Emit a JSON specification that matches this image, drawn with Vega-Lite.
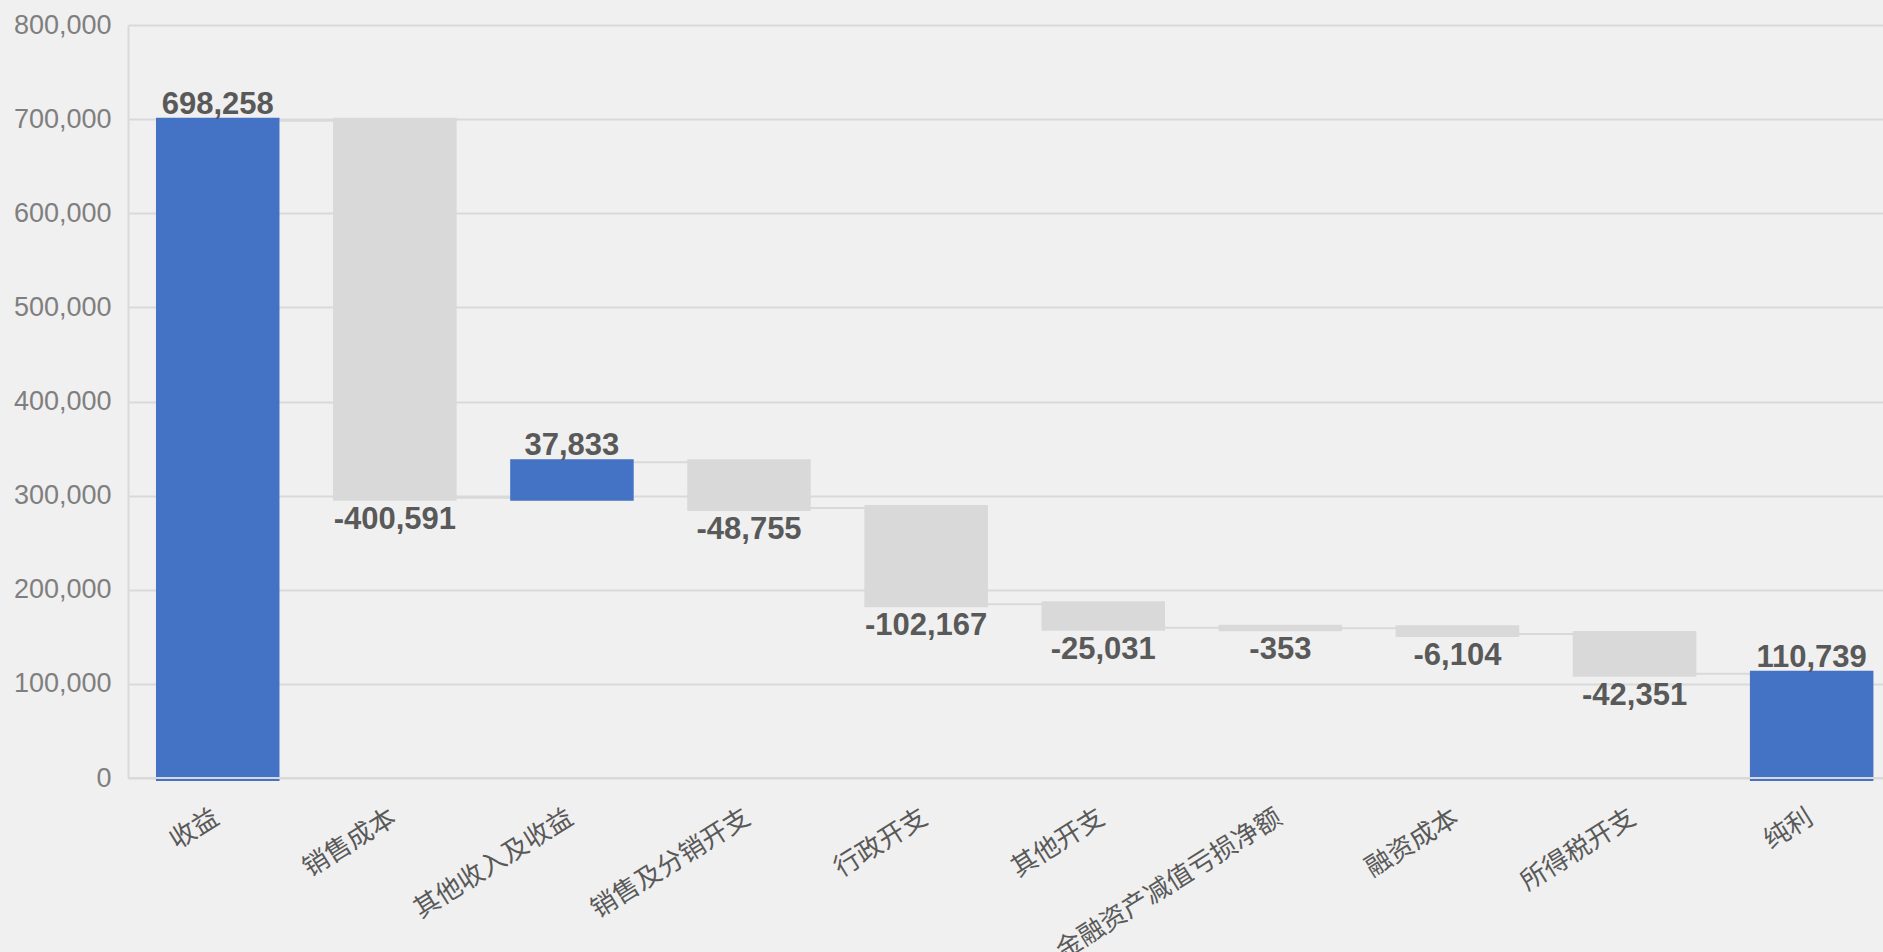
{
  "$schema": "https://vega.github.io/schema/vega-lite/v6.json",
  "autosize": {"type": "none"},
  "padding": {"left": 128, "top": 25, "right": 0, "bottom": 174},
  "width": 1755,
  "height": 753,
  "background": "#f0f0f0",
  "config": {
    "view": {"stroke": null},
    "font": "Liberation Sans",
    "axisY": {
      "ticks": false,
      "domainColor": "#d9d9d9",
      "domainWidth": 2,
      "gridColor": "#d9d9d9",
      "gridWidth": 2,
      "labelFontSize": 27,
      "labelColor": "#7f7f7f",
      "labelPadding": 17
    }
  },
  "data": {
    "values": [
      {"item": "收益", "amount": 698258, "start": 0, "end": 698258, "kind": "total", "label": "698,258", "next": "销售成本"},
      {"item": "销售成本", "amount": -400591, "start": 698258, "end": 297667, "kind": "change", "label": "-400,591", "next": "其他收入及收益"},
      {"item": "其他收入及收益", "amount": 37833, "start": 297667, "end": 335500, "kind": "total", "label": "37,833", "next": "销售及分销开支"},
      {"item": "销售及分销开支", "amount": -48755, "start": 335500, "end": 286745, "kind": "change", "label": "-48,755", "next": "行政开支"},
      {"item": "行政开支", "amount": -102167, "start": 286745, "end": 184578, "kind": "change", "label": "-102,167", "next": "其他开支"},
      {"item": "其他开支", "amount": -25031, "start": 184578, "end": 159547, "kind": "change", "label": "-25,031", "next": "金融资产减值亏损净额"},
      {"item": "金融资产减值亏损净额", "amount": -353, "start": 159547, "end": 159194, "kind": "change", "label": "-353", "next": "融资成本"},
      {"item": "融资成本", "amount": -6104, "start": 159194, "end": 153090, "kind": "change", "label": "-6,104", "next": "所得税开支"},
      {"item": "所得税开支", "amount": -42351, "start": 153090, "end": 110739, "kind": "change", "label": "-42,351", "next": "纯利"},
      {"item": "纯利", "amount": 110739, "start": 0, "end": 110739, "kind": "total", "label": "110,739", "next": null}
    ]
  },
  "encoding": {
    "x": {
      "field": "item",
      "type": "nominal",
      "sort": null,
      "scale": {"paddingInner": 0.3365, "paddingOuter": 0.123, "align": 0.711},
      "axis": {
        "title": null,
        "domain": false,
        "ticks": false,
        "grid": false,
        "labelAngle": -32,
        "labelFont": "Noto Sans CJK SC",
        "labelFontSize": 26,
        "labelColor": "#595959",
        "labelPadding": 26,
        "labelOffset": -8,
        "labelLimit": 0
      }
    }
  },
  "layer": [
    {
      "transform": [{"filter": "datum.next != null"}],
      "mark": {"type": "rule", "color": "#d9d9d9", "strokeWidth": 2},
      "encoding": {
        "x2": {"field": "next"},
        "y": {
          "field": "end",
          "type": "quantitative",
          "scale": {"domain": [0, 800000]},
          "axis": {
            "title": null,
            "values": [0, 100000, 200000, 300000, 400000, 500000, 600000, 700000, 800000],
            "labelExpr": "format(datum.value, ',')"
          }
        }
      }
    },
    {
      "mark": {"type": "bar", "strokeWidth": 6},
      "encoding": {
        "y": {"field": "start", "type": "quantitative"},
        "y2": {"field": "end"},
        "color": {
          "field": "kind",
          "type": "nominal",
          "scale": {"domain": ["total", "change"], "range": ["#4472c4", "#d9d9d9"]},
          "legend": null
        },
        "stroke": {
          "field": "kind",
          "type": "nominal",
          "scale": {"domain": ["total", "change"], "range": ["#4472c4", "#d9d9d9"]},
          "legend": null
        }
      }
    },
    {
      "mark": {"type": "rule", "color": "#d9d9d9", "strokeWidth": 2},
      "encoding": {"x": null, "y": {"datum": 0, "type": "quantitative"}}
    },
    {
      "transform": [{"filter": "datum.amount > 0"}],
      "mark": {"type": "text", "fontSize": 31, "fontWeight": "bold", "color": "#595959", "baseline": "alphabetic", "dy": -7},
      "encoding": {
        "y": {"field": "end", "type": "quantitative"},
        "text": {"field": "label"}
      }
    },
    {
      "transform": [{"filter": "datum.amount < 0"}],
      "mark": {"type": "text", "fontSize": 31, "fontWeight": "bold", "color": "#595959", "baseline": "alphabetic", "dy": 31},
      "encoding": {
        "y": {"field": "end", "type": "quantitative"},
        "text": {"field": "label"}
      }
    }
  ]
}
